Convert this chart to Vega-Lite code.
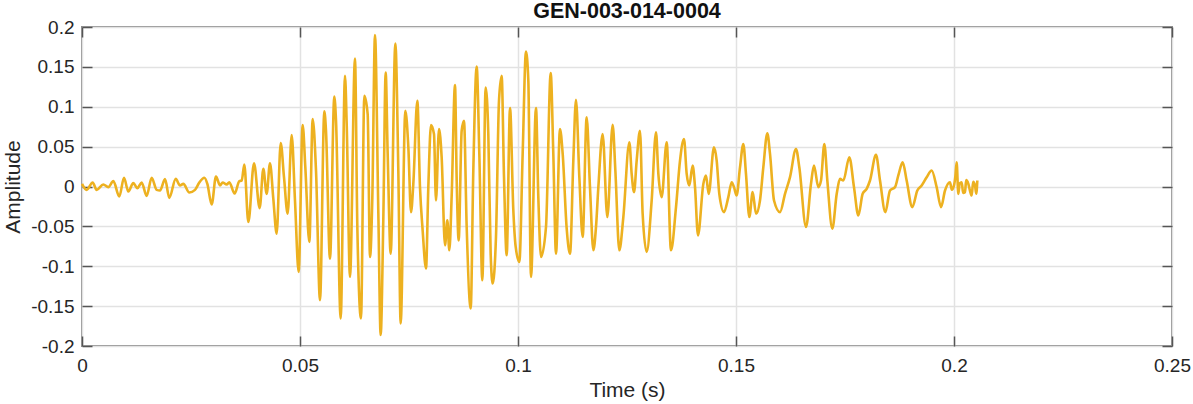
{
  "$schema": "https://vega.github.io/schema/vega-lite/v6.json",
  "width": 1090,
  "height": 319,
  "autosize": {"type": "none"},
  "padding": {"left": 82, "top": 27, "right": 21, "bottom": 58},
  "background": "white",
  "title": {"text": "GEN-003-014-0004", "font": "Liberation Sans", "fontSize": 21.5, "fontWeight": "bold", "color": "#111111", "anchor": "middle", "frame": "group", "offset": -4},
  "config": {"view": {"stroke": "#8c8c8c", "strokeWidth": 2}, "font": "Liberation Sans"},
  "data": {"values": [
    {"t":0.0000,"a":0.0033},{"t":0.00107,"a":-0.0042},{"t":0.00245,"a":0.0050},{"t":0.00337,"a":-0.0042},{"t":0.00489,"a":0.0025},{"t":0.00604,"a":-0.0008},{"t":0.00719,"a":0.0067},{"t":0.00856,"a":-0.0125},{"t":0.00963,"a":0.0109},{"t":0.01063,"a":-0.0063},{"t":0.01177,"a":0.0042},{"t":0.01269,"a":-0.0021},{"t":0.01368,"a":0.0050},{"t":0.01483,"a":-0.0117},{"t":0.01598,"a":0.0109},{"t":0.01713,"a":-0.0042},{"t":0.01789,"a":-0.0050},{"t":0.01904,"a":0.0092},{"t":0.02003,"a":-0.0142},{"t":0.02149,"a":0.0096},{"t":0.02248,"a":0.0013},{"t":0.02324,"a":0.0033},{"t":0.02462,"a":-0.0075},{"t":0.02592,"a":-0.0042},{"t":0.02691,"a":0.0050},{"t":0.02806,"a":0.0109},{"t":0.02875,"a":0.0033},{"t":0.02974,"a":-0.0226},{"t":0.03073,"a":0.0125},{"t":0.03165,"a":0.0013},{"t":0.03226,"a":0.0050},{"t":0.03318,"a":0.0025},{"t":0.03379,"a":0.0054},{"t":0.0350,"a":-0.0088},
    {"t":0.03609,"a":0.0067},{"t":0.03663,"a":0.0075},{"t":0.03723,"a":0.0275},{"t":0.03815,"a":-0.0446},{"t":0.03945,"a":0.0292},{"t":0.04075,"a":-0.0271},{"t":0.04159,"a":0.0221},{"t":0.04235,"a":-0.0092},{"t":0.04312,"a":0.0292},{"t":0.04388,"a":-0.0154},{"t":0.04465,"a":-0.0592},{"t":0.04557,"a":0.0546},{"t":0.04633,"a":0.0117},{"t":0.04717,"a":-0.0342},{"t":0.04809,"a":0.0646},{"t":0.04885,"a":-0.0175},{"t":0.04969,"a":-0.1071},{"t":0.05061,"a":0.0771},{"t":0.05122,"a":0.0242},{"t":0.05214,"a":-0.0696},{"t":0.05291,"a":0.0846},{"t":0.05367,"a":0.0200},{"t":0.05459,"a":-0.1425},{"t":0.05558,"a":0.0942},{"t":0.05596,"a":0.0700},{"t":0.05688,"a":-0.0904},{"t":0.05787,"a":0.1129},{"t":0.05826,"a":0.0825},{"t":0.05933,"a":-0.1654},{"t":0.06032,"a":0.1388},{"t":0.06071,"a":0.0783},
    {"t":0.06147,"a":-0.1133},{"t":0.06261,"a":0.1604},{"t":0.06315,"a":-0.0508},{"t":0.06399,"a":-0.1654},{"t":0.06476,"a":0.1138},{"t":0.06552,"a":0.0908},{"t":0.06606,"a":-0.0883},{"t":0.06659,"a":-0.0133},{"t":0.06720,"a":0.1900},{"t":0.06797,"a":-0.0342},{"t":0.06850,"a":-0.1863},{"t":0.06911,"a":-0.0404},{"t":0.06965,"a":0.1429},{"t":0.07011,"a":0.0408},{"t":0.07080,"a":-0.0842},{"t":0.07187,"a":0.1792},{"t":0.07255,"a":0.0200},{"t":0.07309,"a":-0.1717},{"t":0.07416,"a":0.0950},{"t":0.07485,"a":0.0492},{"t":0.07546,"a":-0.0321},{"t":0.07599,"a":0.0033},{"t":0.07691,"a":0.1075},{"t":0.07752,"a":-0.0008},{"t":0.07813,"a":-0.0550},{"t":0.07890,"a":-0.1029},{"t":0.07943,"a":-0.0008},{"t":0.08005,"a":0.0771},{"t":0.08073,"a":0.0658},{"t":0.08119,"a":-0.0175},{"t":0.08188,"a":0.0721},{"t":0.08249,"a":0.0367},{"t":0.08326,"a":-0.0738},{"t":0.08379,"a":-0.0425},{"t":0.08425,"a":-0.0800},{"t":0.08479,"a":-0.0113},{"t":0.08555,"a":0.1271},{"t":0.08594,"a":0.0075},{"t":0.08639,"a":-0.0675},{"t":0.08708,"a":0.0700},{"t":0.08761,"a":0.0825},{"t":0.08823,"a":-0.0508},{"t":0.08915,"a":-0.1529},
    {"t":0.08975,"a":0.0200},{"t":0.09052,"a":0.1504},{"t":0.09113,"a":0.0408},{"t":0.09182,"a":-0.1175},{"t":0.09258,"a":0.1242},{"t":0.09319,"a":0.0658},{"t":0.09373,"a":-0.0842},{"t":0.09419,"a":-0.1217},{"t":0.09495,"a":-0.0633},{"t":0.09564,"a":0.1075},{"t":0.09625,"a":0.1388},{"t":0.09679,"a":0.0117},{"t":0.09740,"a":-0.0863},{"t":0.09817,"a":0.0983},{"t":0.09893,"a":-0.0300},{"t":0.09947,"a":-0.0758},{"t":0.10031,"a":-0.0946},{"t":0.10107,"a":0.0408},{"t":0.10183,"a":0.1692},{"t":0.10237,"a":0.1325},{"t":0.10298,"a":-0.1133},{"t":0.10413,"a":0.0983},{"t":0.10466,"a":-0.0133},{"t":0.10528,"a":-0.0883},{"t":0.10642,"a":-0.0508},{"t":0.10750,"a":0.1421},{"t":0.10810,"a":0.0408},{"t":0.10872,"a":-0.0842},{"t":0.10963,"a":0.0721},{"t":0.11025,"a":0.0408},{"t":0.11117,"a":-0.0529},{"t":0.11193,"a":-0.0842},{"t":0.11269,"a":0.0325},{"t":0.11330,"a":0.1088},{"t":0.11407,"a":0.0117},{"t":0.11483,"a":-0.0633},{"t":0.11575,"a":0.0867},{"t":0.11651,"a":-0.0008},{"t":0.11728,"a":-0.0800},
    {"t":0.11789,"a":-0.0508},{"t":0.11843,"a":-0.0008},{"t":0.11942,"a":0.0658},{"t":0.12049,"a":-0.0383},{"t":0.12171,"a":0.0775},{"t":0.12233,"a":0.0200},{"t":0.12324,"a":-0.0800},{"t":0.12416,"a":-0.0383},{"t":0.12554,"a":0.0554},{"t":0.12607,"a":0.0158},{"t":0.12661,"a":-0.0071},{"t":0.12722,"a":0.0325},{"t":0.12798,"a":0.0700},{"t":0.12859,"a":-0.0342},{"t":0.12951,"a":-0.0821},{"t":0.13066,"a":-0.0175},{"t":0.13165,"a":0.0679},{"t":0.13219,"a":0.0158},{"t":0.13295,"a":-0.0133},{"t":0.13410,"a":0.0554},{"t":0.13509,"a":-0.0800},{"t":0.13624,"a":-0.0258},{"t":0.13716,"a":0.0325},{"t":0.13807,"a":0.0596},{"t":0.13869,"a":0.0158},{"t":0.13929,"a":0.0013},{"t":0.14006,"a":0.0263},{"t":0.14060,"a":-0.0008},{"t":0.14128,"a":-0.0613},{"t":0.14251,"a":0.0033},{"t":0.14312,"a":0.0138},{"t":0.14373,"a":-0.0092},{"t":0.14495,"a":0.0492},
    {"t":0.14557,"a":0.0325},{"t":0.14617,"a":-0.0092},{"t":0.14725,"a":-0.0321},{"t":0.14824,"a":-0.0133},{"t":0.14901,"a":0.0054},{"t":0.14954,"a":-0.0008},{"t":0.15015,"a":-0.0113},{"t":0.15092,"a":0.0242},{"t":0.15168,"a":0.0533},{"t":0.15229,"a":0.0158},{"t":0.15306,"a":-0.0383},{"t":0.15382,"a":-0.0071},{"t":0.15459,"a":-0.0342},{"t":0.15550,"a":-0.0175},{"t":0.15627,"a":0.0242},{"t":0.15718,"a":0.0667},{"t":0.15780,"a":0.0408},{"t":0.15872,"a":-0.0175},{"t":0.16009,"a":-0.0321},{"t":0.16124,"a":-0.0092},{"t":0.16239,"a":0.0117},{"t":0.16376,"a":0.0471},{"t":0.16452,"a":0.0242},{"t":0.16606,"a":-0.0508},{"t":0.16720,"a":0.0033},{"t":0.16789,"a":0.0263},{"t":0.16888,"a":-0.0008},{"t":0.16950,"a":0.0075},{"t":0.17026,"a":0.0533},{"t":0.17095,"a":0.0075},{"t":0.17209,"a":-0.0529},{"t":0.17310,"a":-0.0092},{"t":0.17385,"a":0.0096},{"t":0.17462,"a":0.0075},{"t":0.17599,"a":0.0367},
    {"t":0.17706,"a":-0.0008},{"t":0.17806,"a":-0.0363},{"t":0.17905,"a":-0.0092},{"t":0.17997,"a":-0.0029},{"t":0.18073,"a":0.0075},{"t":0.18211,"a":0.0396},{"t":0.18303,"a":0.0075},{"t":0.18425,"a":-0.0321},{"t":0.18532,"a":-0.0050},{"t":0.18647,"a":-0.0008},{"t":0.18723,"a":0.0138},{"t":0.18823,"a":0.0304},{"t":0.18914,"a":0.0075},{"t":0.19044,"a":-0.0258},{"t":0.19159,"a":-0.0050},{"t":0.19258,"a":0.0013},{"t":0.19373,"a":0.0117},{"t":0.19488,"a":0.0200},{"t":0.19602,"a":-0.0008},{"t":0.19702,"a":-0.0258},{"t":0.19794,"a":-0.0050},{"t":0.19908,"a":0.0054},{"t":0.1995,"a":-0.004},{"t":0.2000,"a":0.0013},{"t":0.2003,"a":0.012},{"t":0.20061,"a":0.0304},{"t":0.20099,"a":-0.0092},{"t":0.2013,"a":0.004},{"t":0.20176,"a":0.0054},{"t":0.2021,"a":-0.008},{"t":0.20252,"a":-0.0071},{"t":0.2028,"a":0.008},{"t":0.20329,"a":0.0033},{"t":0.2037,"a":-0.006},{"t":0.20405,"a":-0.0113},{"t":0.2044,"a":0.006},{"t":0.20482,"a":0.0013},{"t":0.2051,"a":-0.009},{"t":0.20535,"a":0.0075}
  ]},
  "layer": [
    {
      "mark": {"type": "line", "color": "#EDB120", "strokeWidth": 2.6, "interpolate": "monotone"},
      "encoding": {
        "x": {"field": "t", "type": "quantitative", "scale": {"domain": [0, 0.25], "nice": false, "zero": false},
          "axis": {"orient": "bottom", "title": "Time (s)", "values": [0, 0.05, 0.1, 0.15, 0.2, 0.25], "labelExpr": "toString(datum.value)",
            "labelFlush": false, "labelOverlap": false, "grid": true, "gridColor": "#e2e2e2", "gridWidth": 1.5, "domain": false,
            "tickSize": -10, "tickColor": "#555555", "tickWidth": 1.5, "labelPadding": 20, "labelFontSize": 19, "labelColor": "#262626", "labelFont": "Liberation Sans",
            "titleFontSize": 21, "titleFontWeight": "normal", "titleColor": "#262626", "titleFont": "Liberation Sans", "titleX": 545, "titleY": 50.7, "titleBaseline": "alphabetic", "titleAlign": "center"}},
        "y": {"field": "a", "type": "quantitative", "scale": {"domain": [-0.2, 0.2], "nice": false, "zero": false},
          "axis": {"orient": "left", "title": "Amplitude", "values": [-0.2, -0.15, -0.1, -0.05, 0, 0.05, 0.1, 0.15, 0.2], "labelExpr": "toString(datum.value)",
            "labelFlush": false, "labelOverlap": false, "grid": true, "gridColor": "#e2e2e2", "gridWidth": 1.5, "domain": false,
            "tickSize": -10, "tickColor": "#555555", "tickWidth": 1.5, "labelPadding": 18, "labelFontSize": 19, "labelColor": "#262626", "labelFont": "Liberation Sans",
            "titleFontSize": 21, "titleFontWeight": "normal", "titleColor": "#262626", "titleFont": "Liberation Sans", "titleX": -63, "titleY": 159.5, "titleAngle": -90, "titleBaseline": "alphabetic", "titleAlign": "center"}}
      }
    },
    {
      "mark": {"type": "line", "opacity": 0},
      "encoding": {
        "x": {"field": "t", "type": "quantitative",
          "axis": {"orient": "top", "title": null, "values": [0, 0.05, 0.1, 0.15, 0.2, 0.25], "labels": false, "grid": false, "domain": false, "tickSize": -10, "tickColor": "#555555", "tickWidth": 1.5}},
        "y": {"field": "a", "type": "quantitative",
          "axis": {"orient": "right", "title": null, "values": [-0.2, -0.15, -0.1, -0.05, 0, 0.05, 0.1, 0.15, 0.2], "labels": false, "grid": false, "domain": false, "tickSize": -10, "tickColor": "#555555", "tickWidth": 1.5}}
      }
    }
  ],
  "resolve": {"axis": {"x": "independent", "y": "independent"}}
}
